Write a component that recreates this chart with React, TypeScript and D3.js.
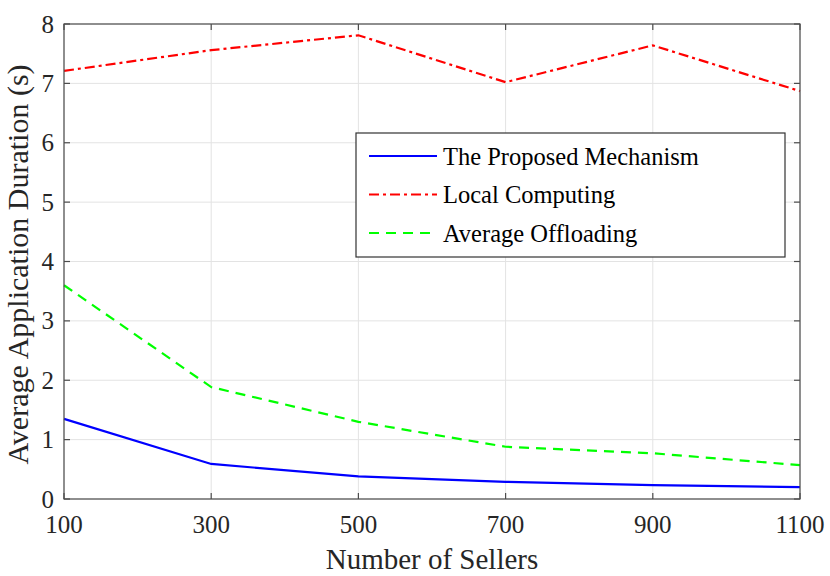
import { useEffect, useRef } from 'react';
import * as d3 from 'd3';

// values
const sellers = [100, 300, 500, 700, 900, 1100];
const proposed = [1.35, 0.59, 0.38, 0.29, 0.235, 0.2];
const localComputing = [7.21, 7.56, 7.81, 7.02, 7.64, 6.87];
const avgOffloading = [3.6, 1.885, 1.3, 0.88, 0.77, 0.57];
const yTicks = [0, 1, 2, 3, 4, 5, 6, 7, 8];
const seriesNames = ['The Proposed Mechanism', 'Local Computing', 'Average Offloading'];

const W = 830;
const H = 576;
const FONT = '"Liberation Serif", "Times New Roman", serif';

export default function App(): JSX.Element {
  const svgRef = useRef<SVGSVGElement>(null);

  useEffect(() => {
    document.body.style.margin = '0';
    if (!svgRef.current) return;
    const svg = d3.select(svgRef.current);
    svg.selectAll('*').remove();

    const margin = { top: 24, right: 30, bottom: 77, left: 64 };
    const width = W - margin.left - margin.right;
    const height = H - margin.top - margin.bottom;

    const x = d3.scaleLinear().domain([100, 1100]).range([0, width]);
    const y = d3.scaleLinear().domain([0, 8]).range([height, 0]);

    const g = svg.append('g').attr('transform', `translate(${margin.left},${margin.top})`);

    // grid
    g.append('g')
      .selectAll('line')
      .data(sellers)
      .enter()
      .append('line')
      .attr('x1', d => x(d)).attr('x2', d => x(d))
      .attr('y1', 0).attr('y2', height)
      .attr('stroke', '#e3e3e3').attr('stroke-width', 1);
    g.append('g')
      .selectAll('line')
      .data(yTicks)
      .enter()
      .append('line')
      .attr('x1', 0).attr('x2', width)
      .attr('y1', d => y(d)).attr('y2', d => y(d))
      .attr('stroke', '#e3e3e3').attr('stroke-width', 1);

    // inward ticks on all four sides
    const tickLen = 6;
    const ticks = g.append('g').attr('stroke', '#4d4d4d').attr('stroke-width', 1.2);
    sellers.forEach(d => {
      ticks.append('line').attr('x1', x(d)).attr('x2', x(d)).attr('y1', height).attr('y2', height - tickLen);
      ticks.append('line').attr('x1', x(d)).attr('x2', x(d)).attr('y1', 0).attr('y2', tickLen);
    });
    yTicks.forEach(d => {
      ticks.append('line').attr('x1', 0).attr('x2', tickLen).attr('y1', y(d)).attr('y2', y(d));
      ticks.append('line').attr('x1', width).attr('x2', width - tickLen).attr('y1', y(d)).attr('y2', y(d));
    });

    // tick labels
    g.append('g')
      .selectAll('text')
      .data(sellers)
      .enter()
      .append('text')
      .attr('x', d => x(d))
      .attr('y', height + 34)
      .attr('text-anchor', 'middle')
      .style('font-family', FONT)
      .style('font-size', '25px')
      .style('fill', '#262626')
      .text(d => d);
    g.append('g')
      .selectAll('text')
      .data(yTicks)
      .enter()
      .append('text')
      .attr('x', -10)
      .attr('y', d => y(d) + 8.5)
      .attr('text-anchor', 'end')
      .style('font-family', FONT)
      .style('font-size', '25px')
      .style('fill', '#262626')
      .text(d => d);

    // axis titles
    svg.append('text')
      .attr('x', margin.left + width / 2)
      .attr('y', 569)
      .attr('text-anchor', 'middle')
      .style('font-family', FONT)
      .style('font-size', '29px')
      .style('fill', '#262626')
      .text('Number of Sellers');
    svg.append('text')
      .attr('transform', `translate(28,${margin.top + height / 2 + 3}) rotate(-90)`)
      .attr('text-anchor', 'middle')
      .style('font-family', FONT)
      .style('font-size', '30px')
      .style('fill', '#262626')
      .text('Average Application Duration (s)');

    // series
    const series = [
      { values: proposed, color: '#0000ff', dash: null },
      { values: localComputing, color: '#ff0000', dash: '10,4,3,4' },
      { values: avgOffloading, color: '#00ff00', dash: '10,7' },
    ];
    const line = d3.line<number>()
      .x((_, i) => x(sellers[i]))
      .y(d => y(d));

    series.forEach(s => {
      g.append('path')
        .datum(s.values)
        .attr('d', line)
        .attr('fill', 'none')
        .attr('stroke', s.color)
        .attr('stroke-width', 2.2)
        .attr('stroke-dasharray', s.dash);
    });

    // axes box
    g.append('rect')
      .attr('width', width).attr('height', height)
      .attr('fill', 'none')
      .attr('stroke', '#4d4d4d')
      .attr('stroke-width', 1.2);

    // legend
    const legend = svg.append('g').attr('transform', 'translate(356,133)');
    legend.append('rect')
      .attr('width', 429).attr('height', 124)
      .attr('fill', '#ffffff')
      .attr('stroke', '#333333')
      .attr('stroke-width', 1.2);
    series.forEach((s, i) => {
      const ly = 23 + i * 38.5;
      legend.append('line')
        .attr('x1', 13).attr('x2', 81)
        .attr('y1', ly).attr('y2', ly)
        .attr('stroke', s.color)
        .attr('stroke-width', 2.2)
        .attr('stroke-dasharray', s.dash);
      legend.append('text')
        .attr('x', 87)
        .attr('y', ly + 8.5)
        .style('font-family', FONT)
        .style('font-size', '24.5px')
        .style('fill', '#000000')
        .text(seriesNames[i]);
    });
  }, []);

  return <svg ref={svgRef} width={W} height={H} style={{ display: 'block', background: '#ffffff' }} />;
}
